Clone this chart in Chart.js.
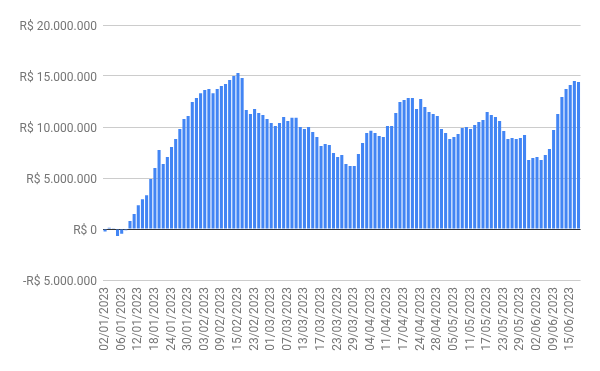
<!DOCTYPE html>
<html>
<head>
<meta charset="utf-8">
<script src="https://cdn.jsdelivr.net/npm/chart.js@4.4.1/dist/chart.umd.min.js"></script>
<style>
  html, body { margin: 0; padding: 0; background: #ffffff; }
  #wrap { width: 600px; height: 371px; position: relative; }
</style>
</head>
<body>
<div id="wrap"><canvas id="c" width="600" height="371"></canvas></div>
<script>
// Business days (categories)
const dates = [
  "02/01/2023","03/01/2023","04/01/2023","05/01/2023","06/01/2023","09/01/2023","10/01/2023","11/01/2023","12/01/2023","13/01/2023",
  "16/01/2023","17/01/2023","18/01/2023","19/01/2023","20/01/2023","23/01/2023","24/01/2023","25/01/2023","26/01/2023","27/01/2023",
  "30/01/2023","31/01/2023","01/02/2023","02/02/2023","03/02/2023","06/02/2023","07/02/2023","08/02/2023","09/02/2023","10/02/2023",
  "13/02/2023","14/02/2023","15/02/2023","16/02/2023","17/02/2023","22/02/2023","23/02/2023","24/02/2023","27/02/2023","28/02/2023",
  "01/03/2023","02/03/2023","03/03/2023","06/03/2023","07/03/2023","08/03/2023","09/03/2023","10/03/2023","13/03/2023","14/03/2023",
  "15/03/2023","16/03/2023","17/03/2023","20/03/2023","21/03/2023","22/03/2023","23/03/2023","24/03/2023","27/03/2023","28/03/2023",
  "29/03/2023","30/03/2023","31/03/2023","03/04/2023","04/04/2023","05/04/2023","06/04/2023","10/04/2023","11/04/2023","12/04/2023",
  "13/04/2023","14/04/2023","17/04/2023","18/04/2023","19/04/2023","20/04/2023","24/04/2023","25/04/2023","26/04/2023","27/04/2023",
  "28/04/2023","02/05/2023","03/05/2023","04/05/2023","05/05/2023","08/05/2023","09/05/2023","10/05/2023","11/05/2023","12/05/2023",
  "15/05/2023","16/05/2023","17/05/2023","18/05/2023","19/05/2023","22/05/2023","23/05/2023","24/05/2023","25/05/2023","26/05/2023",
  "29/05/2023","30/05/2023","31/05/2023","01/06/2023","02/06/2023","05/06/2023","06/06/2023","07/06/2023","09/06/2023","12/06/2023",
  "13/06/2023","14/06/2023","15/06/2023","16/06/2023","19/06/2023"
];

// Series values (R$)
const saldo = [
  -250000, 120000, 20000, -680000, -470000, -130000, 780000, 1480000, 2340000, 2920000,
  3310000, 4900000, 5980000, 7750000, 6370000, 7060000, 8040000, 8820000, 9800000, 10780000,
  11080000, 12450000, 12840000, 13320000, 13630000, 13730000, 13320000, 13730000, 14020000, 14220000,
  14610000, 15000000, 15290000, 14800000, 11670000, 11270000, 11760000, 11370000, 11180000, 10780000,
  10390000, 10100000, 10390000, 10980000, 10590000, 10900000, 10900000, 10000000, 9800000, 10000000,
  9510000, 9020000, 8140000, 8330000, 8240000, 7450000, 7060000, 7250000, 6370000, 6180000,
  6180000, 7350000, 8430000, 9410000, 9630000, 9410000, 9120000, 9020000, 10100000, 10100000,
  11370000, 12450000, 12650000, 12840000, 12840000, 11760000, 12750000, 11960000, 11470000, 11270000,
  11080000, 9800000, 9410000, 8820000, 9020000, 9310000, 9900000, 10000000, 9800000, 10200000,
  10490000, 10690000, 11470000, 11180000, 10980000, 10590000, 9610000, 8820000, 8920000, 8820000,
  8920000, 9220000, 6760000, 6960000, 7060000, 6760000, 7250000, 7840000, 9710000, 11270000,
  12940000, 13730000, 14120000, 14510000, 14410000
];

// Y-axis ticks
const yTickValues = [-5000000, 0, 5000000, 10000000, 15000000, 20000000];
const yTickLabels = ["-R$ 5.000.000", "R$ 0", "R$ 5.000.000", "R$ 10.000.000", "R$ 15.000.000", "R$ 20.000.000"];

const labelEvery = 4;
const FONT = "Roboto, 'Noto Sans', Arial, sans-serif";

new Chart(document.getElementById('c'), {
  type: 'bar',
  data: {
    labels: dates,
    datasets: [{
      data: saldo,
      backgroundColor: '#4285F4',
      borderWidth: 0,
      barPercentage: 0.74,
      categoryPercentage: 1.0
    }]
  },
  options: {
    responsive: false,
    animation: false,
    devicePixelRatio: 1,
    layout: { padding: { top: 25, right: 18, bottom: 0, left: 0 } },
    plugins: { legend: { display: false }, tooltip: { enabled: false } },
    scales: {
      x: {
        offset: true,
        grid: { display: false, drawTicks: false },
        border: { display: false },
        ticks: {
          autoSkip: false,
          minRotation: 90,
          maxRotation: 90,
          padding: 7,
          color: '#757575',
          font: { family: FONT, size: 12 },
          callback: function(val, idx) { return idx % labelEvery === 0 ? dates[idx] : ''; }
        },
        afterFit: function(scale) { scale.height = 91; }
      },
      y: {
        min: yTickValues[0],
        max: yTickValues[yTickValues.length - 1],
        afterBuildTicks: function(scale) { scale.ticks = yTickValues.map(v => ({ value: v })); },
        grid: {
          drawTicks: false,
          color: ctx => (ctx.tick && ctx.tick.value === 0) ? '#333333' : '#cccccc',
          lineWidth: 1
        },
        border: { display: false },
        ticks: {
          padding: 6,
          labelOffset: 1.5,
          color: '#757575',
          font: { family: FONT, size: 12 },
          callback: function(v) { const i = yTickValues.indexOf(v); return i >= 0 ? yTickLabels[i] : ''; }
        },
        afterFit: function(scale) { scale.width = 103; }
      }
    }
  }
});
</script>
</body>
</html>
